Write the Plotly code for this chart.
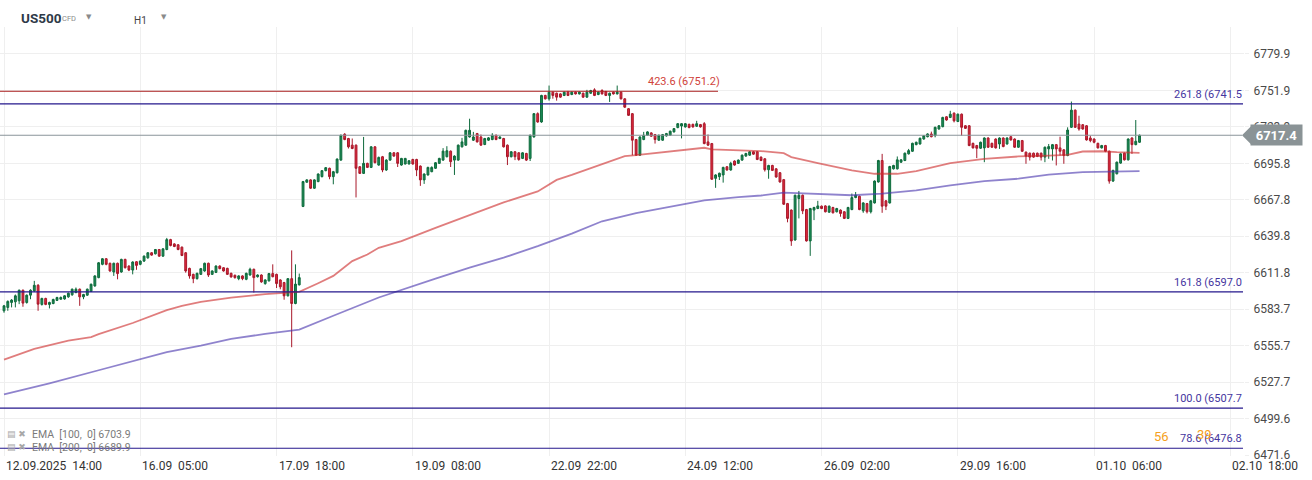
import plotly.graph_objects as go

# ---------------- data ----------------
opens = [
6582.5,6585.1,6588.9,6589.4,6590.2,6598.3,6588.9,6594.5,6597.8,6602.1,
6587.4,6592.0,6587.4,6588.1,6590.5,6591.4,6591.6,6593.2,6594.8,6596.5,
6599.1,6593.2,6594.5,6597.3,6601.6,6608.0,6618.2,6622.5,6619.0,6612.3,
6619.0,6612.3,6622.0,6616.9,6613.8,6620.2,6618.2,6620.7,6623.2,6627.1,
6626.3,6629.6,6624.5,6629.6,6637.2,6633.9,6633.2,6631.4,6627.1,6615.1,
6610.5,6607.2,6610.5,6613.1,6619.0,6610.5,6612.0,6616.9,6615.6,6615.1,
6611.3,6609.8,6607.2,6609.3,6606.7,6610.0,6614.4,6608.7,6610.0,6603.4,
6605.5,6611.1,6610.5,6606.2,6604.2,6594.0,6607.2,6588.1,6602.4,6662.7,
6681.3,6683.1,6676.7,6681.8,6685.6,6690.2,6692.0,6685.6,6688.6,6698.3,
6718.2,6714.9,6709.8,6709.8,6693.2,6688.1,6695.8,6692.7,6708.5,6694.5,
6700.9,6690.7,6698.3,6703.9,6703.9,6694.5,6695.3,6695.3,6698.8,6698.8,
6693.7,6683.1,6686.9,6689.4,6692.0,6695.8,6698.3,6700.9,6705.2,6698.3,
6698.3,6708.5,6709.8,6716.1,6713.6,6718.7,6716.1,6710.3,6713.6,6714.1,
6717.4,6714.9,6714.9,6709.8,6700.9,6704.7,6703.9,6699.6,6703.4,6699.6,
6716.1,6734.0,6727.6,6748.0,6745.4,6750.5,6749.7,6749.2,6748.0,6750.5,
6748.7,6750.5,6749.2,6749.7,6746.7,6749.7,6752.3,6748.7,6751.8,6751.0,
6748.0,6750.5,6749.2,6750.5,6745.4,6737.8,6734.0,6714.1,6702.1,6714.1,
6717.4,6719.2,6717.9,6713.6,6713.6,6716.9,6717.4,6720.0,6723.3,6724.5,
6723.8,6725.8,6725.8,6724.3,6725.6,6726.3,6712.3,6711.0,6684.3,6685.6,
6686.9,6693.2,6690.7,6697.6,6695.8,6698.3,6701.4,6702.1,6704.7,6704.7,
6700.6,6699.3,6690.9,6694.2,6691.6,6688.6,6683.3,6664.9,6659.9,6636.9,
6668.8,6671.3,6660.3,6636.2,6659.9,6661.1,6662.9,6663.1,6658.3,6661.9,
6658.6,6659.9,6658.6,6653.5,6660.3,6669.5,6670.5,6659.3,6664.9,6658.6,
6665.4,6681.5,6698.0,6667.0,6665.4,6691.6,6691.6,6696.7,6698.0,6703.1,
6705.1,6710.2,6710.7,6714.5,6716.3,6718.4,6717.1,6722.2,6724.0,6731.6,
6731.1,6734.4,6728.0,6733.6,6724.7,6724.7,6711.2,6709.5,6707.4,6707.7,
6715.3,6711.2,6714.5,6710.7,6715.3,6710.7,6716.3,6714.5,6708.2,6713.3,
6704.4,6703.6,6703.6,6703.6,6703.6,6700.6,6706.9,6706.9,6710.2,6707.7,
6706.2,6701.8,6723.5,6736.7,6726.0,6725.5,6724.7,6715.3,6714.5,6711.2,
6707.7,6709.5,6705.1,6682.2,6687.8,6696.0,6703.6,6698.5,6715.3,6710.2,
6712.0]
highs = [
6587.0,6590.5,6591.5,6595.0,6598.8,6598.8,6595.0,6599.0,6605.5,6603.0,
6592.5,6592.5,6589.5,6591.8,6593.3,6593.5,6594.5,6596.5,6599.6,6600.4,
6599.6,6595.5,6599.6,6603.4,6609.8,6620.0,6623.0,6623.0,6619.5,6619.5,
6619.5,6622.5,6622.5,6617.4,6620.5,6620.7,6621.2,6625.0,6627.6,6627.6,
6630.0,6630.0,6630.6,6638.5,6637.8,6634.4,6633.7,6631.9,6627.6,6615.6,
6611.0,6611.8,6615.4,6619.5,6619.5,6613.6,6617.4,6617.4,6616.1,6615.6,
6611.8,6610.3,6609.8,6609.8,6611.8,6615.6,6614.9,6610.5,6610.5,6606.7,
6611.6,6618.2,6611.0,6606.7,6604.7,6607.7,6628.9,6618.2,6611.1,6682.3,
6683.6,6683.6,6683.6,6688.1,6690.7,6693.0,6692.5,6690.0,6699.6,6717.9,
6719.0,6715.4,6714.9,6710.3,6693.7,6716.1,6696.3,6709.0,6709.0,6701.0,
6701.5,6699.0,6704.5,6704.5,6704.5,6700.0,6700.0,6698.3,6699.3,6699.3,
6694.2,6688.1,6693.2,6693.5,6696.8,6700.1,6707.5,6709.0,6705.7,6702.0,
6710.3,6715.4,6721.7,6730.1,6720.0,6719.2,6718.0,6715.4,6716.0,6719.0,
6718.0,6716.6,6715.4,6710.3,6705.2,6705.2,6704.4,6704.4,6703.9,6717.9,
6734.5,6735.0,6748.5,6748.5,6755.6,6751.0,6750.2,6749.7,6751.0,6751.5,
6751.0,6751.0,6751.0,6750.2,6752.3,6752.3,6753.5,6751.0,6752.8,6751.5,
6750.2,6751.0,6755.6,6751.0,6745.9,6738.3,6734.5,6714.6,6716.6,6720.0,
6720.5,6719.7,6718.4,6717.9,6718.4,6719.2,6721.0,6723.0,6726.8,6726.8,
6726.8,6726.3,6726.3,6728.5,6726.1,6727.5,6718.0,6711.5,6687.4,6688.7,
6693.2,6693.7,6697.0,6698.1,6698.8,6702.6,6703.9,6705.2,6705.2,6705.2,
6701.1,6699.8,6694.7,6694.7,6692.1,6689.1,6683.8,6665.4,6660.4,6671.8,
6674.6,6671.8,6660.8,6661.6,6662.4,6667.0,6663.4,6663.6,6663.4,6662.4,
6661.6,6660.4,6659.1,6662.4,6672.6,6673.8,6671.0,6665.9,6665.4,6667.5,
6682.7,6698.5,6703.1,6667.5,6693.9,6694.7,6701.1,6699.0,6704.1,6706.9,
6711.7,6712.5,6715.6,6717.6,6718.9,6720.2,6724.0,6725.2,6731.6,6732.1,
6736.2,6734.9,6734.1,6734.1,6725.2,6725.2,6711.7,6710.0,6712.5,6715.8,
6715.8,6711.7,6715.0,6715.8,6715.8,6715.8,6716.8,6715.0,6713.8,6713.8,
6704.9,6704.1,6704.1,6704.1,6704.1,6708.7,6710.7,6710.7,6710.7,6716.3,
6706.7,6723.5,6743.3,6737.2,6732.4,6726.0,6725.2,6717.1,6715.0,6711.7,
6710.0,6710.0,6705.6,6690.9,6697.2,6703.6,6704.1,6715.0,6715.8,6729.1,
6717.9]
lows = [
6581.0,6582.5,6585.1,6585.1,6587.6,6585.6,6588.0,6591.4,6597.0,6582.5,
6586.5,6586.8,6584.3,6587.5,6590.0,6591.0,6591.0,6592.5,6594.0,6596.0,
6586.3,6591.4,6594.0,6597.0,6601.0,6607.5,6617.5,6617.5,6612.5,6609.3,
6606.7,6611.8,6615.0,6613.0,6610.5,6614.0,6617.5,6620.0,6622.5,6624.8,
6625.8,6624.0,6624.0,6629.0,6632.0,6631.4,6629.0,6624.5,6611.8,6607.2,
6603.7,6606.5,6610.0,6612.5,6608.5,6610.0,6611.5,6614.4,6612.6,6610.0,
6608.0,6607.2,6606.0,6606.0,6606.0,6609.5,6596.5,6608.0,6604.0,6602.5,
6605.0,6608.2,6600.0,6599.0,6591.0,6593.5,6554.5,6587.5,6602.0,6662.2,
6681.0,6676.2,6676.2,6681.3,6685.0,6689.7,6683.6,6679.7,6688.0,6697.8,
6713.6,6707.2,6706.7,6669.6,6687.6,6687.6,6692.2,6692.2,6695.8,6694.0,
6689.0,6690.0,6697.8,6700.9,6693.0,6694.0,6695.0,6695.0,6694.8,6686.0,
6678.5,6680.0,6686.4,6689.0,6691.5,6695.3,6697.8,6700.4,6693.0,6686.9,
6697.8,6708.0,6709.3,6715.6,6713.0,6711.8,6709.3,6709.8,6713.0,6713.6,
6713.6,6714.4,6708.0,6694.5,6700.4,6698.3,6697.8,6699.1,6697.6,6697.6,
6715.6,6727.0,6727.0,6744.9,6744.0,6745.5,6744.0,6746.2,6747.5,6747.5,
6748.2,6748.7,6748.7,6746.2,6746.2,6749.2,6747.5,6748.2,6748.7,6747.5,
6743.0,6748.7,6748.7,6744.9,6738.5,6732.2,6702.0,6701.6,6701.6,6713.6,
6716.9,6716.2,6711.0,6713.1,6713.1,6716.4,6716.9,6719.5,6722.8,6715.0,
6723.3,6722.8,6723.3,6723.8,6723.3,6710.5,6709.3,6683.1,6677.0,6683.0,
6681.0,6690.2,6690.2,6694.0,6695.3,6697.8,6700.9,6701.6,6702.4,6698.3,
6697.5,6689.5,6684.0,6689.9,6684.8,6681.0,6663.9,6650.5,6632.4,6636.4,
6653.5,6656.8,6635.7,6624.7,6652.2,6660.6,6660.6,6658.1,6657.8,6657.3,
6658.1,6654.8,6653.0,6653.0,6659.8,6669.0,6659.8,6657.8,6657.3,6657.3,
6664.9,6681.0,6657.8,6659.9,6664.9,6691.1,6691.1,6696.2,6697.5,6702.6,
6704.6,6709.7,6710.2,6714.0,6715.8,6715.8,6715.8,6721.7,6723.5,6728.6,
6730.6,6727.3,6727.5,6717.1,6722.2,6709.0,6707.2,6699.8,6706.9,6696.7,
6707.7,6707.7,6707.2,6706.9,6708.2,6710.2,6713.3,6707.7,6707.7,6704.6,
6695.5,6698.0,6700.1,6700.6,6698.0,6696.7,6699.3,6698.0,6694.2,6701.8,
6695.5,6701.3,6723.0,6723.0,6720.9,6721.7,6713.3,6712.0,6711.2,6707.2,
6707.2,6704.4,6680.2,6681.5,6687.3,6695.5,6698.0,6698.0,6703.1,6709.7,
6711.5]
closes = [
6586.3,6589.7,6590.7,6594.0,6598.3,6588.4,6594.5,6598.3,6602.1,6587.6,
6592.0,6587.4,6588.9,6591.2,6592.7,6592.7,6594.0,6596.0,6599.1,6599.1,
6593.2,6595.0,6599.1,6602.9,6609.3,6619.4,6622.5,6618.2,6613.1,6619.0,
6611.1,6622.0,6615.6,6613.8,6620.0,6617.4,6620.7,6624.5,6627.1,6625.3,
6629.6,6624.5,6630.1,6637.2,6632.7,6631.9,6629.6,6625.0,6613.1,6609.3,
6607.2,6611.3,6614.9,6619.0,6610.0,6613.1,6616.9,6614.9,6613.1,6610.5,
6608.5,6608.0,6609.3,6607.2,6611.3,6614.4,6608.0,6610.0,6604.7,6606.2,
6611.1,6608.7,6603.4,6600.9,6594.0,6607.2,6588.1,6603.0,6608.0,6681.8,
6683.1,6676.7,6683.1,6687.6,6690.2,6692.5,6685.6,6689.4,6699.1,6717.4,
6714.1,6708.5,6707.2,6692.0,6688.1,6695.8,6692.7,6708.5,6696.3,6700.4,
6690.7,6698.3,6703.9,6701.4,6695.8,6699.6,6699.6,6697.8,6695.3,6690.7,
6683.1,6687.6,6692.7,6692.7,6696.3,6699.6,6705.2,6705.5,6697.1,6701.4,
6709.8,6712.3,6721.2,6721.2,6716.1,6712.3,6709.8,6714.9,6715.4,6717.4,
6714.1,6716.1,6708.5,6700.9,6704.7,6700.9,6698.8,6703.9,6698.3,6717.4,
6734.0,6727.6,6748.0,6745.4,6750.5,6748.0,6746.7,6746.7,6750.5,6748.0,
6750.5,6749.2,6750.5,6746.7,6750.5,6751.8,6748.0,6750.5,6749.2,6748.0,
6749.7,6749.2,6750.5,6745.4,6739.0,6732.7,6713.6,6702.1,6716.1,6717.4,
6720.0,6716.7,6714.1,6717.4,6717.9,6718.7,6720.5,6722.5,6726.3,6726.3,
6726.3,6723.3,6723.8,6726.3,6723.8,6711.0,6709.8,6683.6,6686.9,6688.2,
6692.7,6690.7,6695.8,6694.5,6698.3,6702.1,6703.4,6704.7,6702.9,6698.8,
6698.0,6690.9,6694.2,6690.4,6685.3,6681.5,6664.4,6653.5,6636.2,6671.3,
6671.3,6659.3,6636.2,6661.1,6661.9,6663.1,6661.1,6658.6,6662.9,6657.8,
6661.1,6657.3,6653.5,6661.9,6669.5,6671.3,6660.3,6665.4,6658.6,6667.0,
6682.2,6698.0,6662.9,6662.9,6693.4,6694.2,6698.5,6698.5,6703.6,6705.6,
6711.2,6712.0,6715.1,6717.1,6718.4,6716.3,6723.5,6724.7,6731.1,6729.1,
6733.6,6728.5,6733.6,6723.5,6722.7,6709.5,6707.7,6707.4,6712.0,6715.3,
6708.2,6708.2,6707.7,6715.3,6708.7,6715.3,6713.8,6708.2,6713.3,6705.1,
6701.3,6700.6,6700.6,6701.1,6700.6,6708.2,6708.7,6710.2,6706.9,6705.1,
6701.8,6721.4,6736.7,6723.5,6722.2,6722.2,6713.8,6713.3,6712.0,6707.7,
6709.5,6705.1,6682.2,6690.4,6696.7,6703.1,6698.5,6714.5,6710.2,6712.8,
6717.4]

ema100_idx = [0, 8, 17, 23, 25, 34, 43, 47, 52, 60, 69, 76, 78, 83, 87, 92, 96, 99,
              105, 114, 123, 132, 141, 146, 150, 158, 164, 167, 176, 185, 187, 194,
              200, 206, 208, 215, 224, 230, 236, 241, 250, 259, 268, 276, 281, 285,
              290, 294, 300]
ema100_val = [6545.0, 6553.3, 6559.6, 6562.2, 6564.5, 6573.1, 6583.0, 6586.3, 6589.4,
              6592.7, 6595.3, 6596.5, 6597.1, 6603.7, 6609.3, 6620.7, 6625.8, 6630.9,
              6636.0, 6646.2, 6656.3, 6665.8, 6674.2, 6683.1, 6686.9, 6695.3, 6701.4,
              6702.1, 6704.7, 6707.8, 6706.5, 6705.5, 6705.2, 6703.6, 6700.6, 6696.0,
              6690.4, 6687.8, 6687.8, 6689.9, 6696.0, 6699.3, 6701.1, 6701.8, 6702.3,
              6704.9, 6705.1, 6704.4, 6703.9]
ema200_idx = [0, 12, 25, 37, 43, 52, 60, 69, 76, 78, 87, 96, 99, 114, 123, 132, 141,
              150, 158, 167, 176, 185, 194, 200, 206, 215, 224, 232, 241, 250, 259,
              268, 276, 285, 294, 300]
ema200_val = [6518.3, 6526.8, 6536.8, 6546.1, 6550.7, 6555.8, 6560.9, 6564.7, 6567.3,
              6568.0, 6578.7, 6588.9, 6592.7, 6607.2, 6615.6, 6623.3, 6632.2, 6641.8,
              6651.3, 6657.6, 6662.7, 6667.3, 6669.8, 6671.1, 6673.3, 6672.1, 6671.3,
              6672.6, 6675.1, 6678.9, 6682.2, 6684.0, 6687.1, 6689.1, 6689.9, 6689.9]

fib_labels = ["423.6", "261.8", "161.8", "100.0", "78.6"]
fib_values = [6751.2, 6741.5, 6597.0, 6507.7, 6476.8]

last_price = 6717.4

x_tick_idx = [0, 36, 72, 108, 144, 180, 216, 252, 288, 324]
x_tick_text = ["12.09.2025  14:00", "16.09  05:00", "17.09  18:00", "19.09  08:00",
               "22.09  22:00", "24.09  12:00", "26.09  02:00", "29.09  16:00",
               "01.10  06:00", "02.10  18:00"]
y_tick_vals = [6471.6, 6499.6, 6527.7, 6555.7, 6583.7, 6611.8, 6639.8, 6667.8,
               6695.8, 6723.9, 6751.9, 6779.9]

symbol = "US500"
instrument_type = "CFD"
timeframe = "H1"
ema_legend = ["EMA  [100,  0] 6703.9", "EMA  [200,  0] 6689.9"]

# ---------------- layout geometry ----------------
W, H = 1312, 480
PL, PR, PT, PB = 0, 1244, 27, 456
PW, PH = PR - PL, PB - PT


def px(xp):
    return (xp - PL) / PW


def py(yp):
    return (PB - yp) / PH


FONT = "Roboto"
GREEN_FILL, GREEN_LINE = "#1c8c57", "#0e6a3c"
RED_FILL, RED_LINE = "#e0283c", "#a8182a"
FIB_BLUE, FIB_RED = "#25178c", "#a81c1c"

n = len(closes)
xs = list(range(n))

fig = go.Figure()

fig.add_trace(go.Scatter(x=ema100_idx, y=ema100_val, mode="lines",
                         line=dict(color="rgba(205,45,45,0.62)", width=1.8),
                         hoverinfo="skip", showlegend=False))
fig.add_trace(go.Scatter(x=ema200_idx, y=ema200_val, mode="lines",
                         line=dict(color="rgba(75,55,175,0.62)", width=1.8),
                         hoverinfo="skip", showlegend=False))

fig.add_trace(go.Candlestick(
    x=xs, open=opens, high=highs, low=lows, close=closes,
    increasing=dict(line=dict(color=GREEN_LINE, width=1), fillcolor=GREEN_FILL),
    decreasing=dict(line=dict(color=RED_LINE, width=1), fillcolor=RED_FILL),
    showlegend=False, hoverinfo="skip"))

shapes = []
annotations = []

# fib lines and labels
for lbl, val in zip(fib_labels, fib_values):
    is_ext = lbl == "423.6"
    x_end = 718 if is_ext else 1243
    col = FIB_RED if is_ext else FIB_BLUE
    shapes.append(dict(type="line", xref="paper", yref="y", x0=0, x1=px(x_end),
                       y0=val, y1=val, line=dict(color=col, width=1.1), layer="above"))
    text = f"{lbl} ({val:.1f})"
    if not is_ext:
        text = text[:-1]  # clipped at the chart edge in the reference
    annotations.append(dict(xref="paper", yref="y", x=px(x_end + (4 if is_ext else 1)), y=val,
                            xanchor="right", yanchor="bottom", yshift=1, showarrow=False,
                            text=text,
                            font=dict(family=FONT, size=11,
                                      color="#d0433b" if is_ext else "#4536a0")))

# last price line and tag
shapes.append(dict(type="line", xref="paper", yref="y", x0=0, x1=px(1242), y0=last_price,
                   y1=last_price, line=dict(color="#8a959a", width=1.1), layer="above"))
shapes.append(dict(type="path", xref="paper", yref="y",
                   path=f"M {px(1242)},{last_price} L {px(1251)},{last_price + 7.0} "
                        f"L {px(1251)},{last_price - 7.0} Z",
                   fillcolor="#8a9396", line=dict(width=0), layer="above"))
annotations.append(dict(xref="paper", yref="y", x=px(1250), y=last_price, xanchor="left",
                        yanchor="middle", showarrow=False, text=f"<b>{last_price:.1f}</b>",
                        font=dict(family=FONT, size=13, color="white"),
                        bgcolor="#8a9396", borderpad=2, width=47, height=16))

# x tick labels (left-aligned on their gridlines)
for xi, t in zip(x_tick_idx, x_tick_text):
    annotations.append(dict(xref="x", yref="paper", x=xi, y=0, xanchor="left", yanchor="top",
                            xshift=0, yshift=-1, showarrow=False, text=t.replace("  ", "&nbsp; "),
                            font=dict(family=FONT, size=12, color="#333333")))

# header
annotations += [
    dict(xref="paper", yref="paper", x=px(19), y=py(18), xanchor="left", yanchor="middle",
         showarrow=False, text=f"<b>{symbol}</b>", font=dict(family=FONT, size=13.5, color="#2e3a48")),
    dict(xref="paper", yref="paper", x=px(60), y=py(19), xanchor="left", yanchor="middle",
         showarrow=False, text=instrument_type, font=dict(family=FONT, size=7.5, color="#8a8a8a")),
    dict(xref="paper", yref="paper", x=px(84), y=py(17), xanchor="left", yanchor="middle",
         showarrow=False, text="▼", font=dict(family="DejaVu Sans", size=7, color="#8a8a8a")),
    dict(xref="paper", yref="paper", x=px(132), y=py(20), xanchor="left", yanchor="middle",
         showarrow=False, text=timeframe, font=dict(family=FONT, size=10, color="#444444")),
    dict(xref="paper", yref="paper", x=px(159), y=py(17), xanchor="left", yanchor="middle",
         showarrow=False, text="▼", font=dict(family="DejaVu Sans", size=7, color="#8a8a8a")),
]

# EMA legend, bottom-left
for i, txt in enumerate(ema_legend):
    yy = 434 + 13 * i
    annotations.append(dict(xref="paper", yref="paper", x=px(5), y=py(yy), xanchor="left",
                            yanchor="middle", showarrow=False, text="▤ ✖",
                            font=dict(family="DejaVu Sans", size=9, color="#a8a8a8")))
    annotations.append(dict(xref="paper", yref="paper", x=px(30), y=py(yy), xanchor="left",
                            yanchor="middle", showarrow=False, text=txt,
                            font=dict(family=FONT, size=10.5, color="#7a7a7a")))

# bottom-right counters
annotations += [
    dict(xref="paper", yref="paper", x=px(1152), y=py(436), xanchor="left", yanchor="middle",
         showarrow=False, text="56", font=dict(family=FONT, size=13, color="#f5a020")),
    dict(xref="paper", yref="paper", x=px(1195), y=py(434), xanchor="left", yanchor="middle",
         showarrow=False, text="39", font=dict(family=FONT, size=13, color="#f5a020")),
]

fig.update_layout(
    width=W, height=H,
    margin=dict(l=PL, r=W - PR, t=PT, b=H - PB),
    paper_bgcolor="white", plot_bgcolor="white",
    showlegend=False,
    shapes=shapes, annotations=annotations,
    xaxis=dict(range=[-1.06, 327.6], tickvals=x_tick_idx, showticklabels=False,
               showgrid=True, gridcolor="#efefef", gridwidth=1, zeroline=False,
               rangeslider=dict(visible=False), showline=False, fixedrange=True),
    yaxis=dict(range=[6470.9, 6800.6], side="right", tickvals=y_tick_vals,
               ticktext=[f"{v:.1f}" for v in y_tick_vals],
               showgrid=True, gridcolor="#efefef", gridwidth=1, zeroline=False,
               ticks="outside", ticklen=4, tickcolor="#efefef", ticklabelstandoff=2,
               tickfont=dict(family=FONT, size=12, color="#4a4a4a"), showline=False,
               fixedrange=True),
)

fig.write_html("out.html", config={"displayModeBar": False},
               post_script="document.body.style.margin='0';document.body.style.overflow='hidden';")
